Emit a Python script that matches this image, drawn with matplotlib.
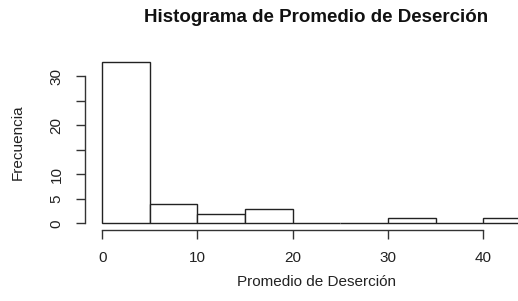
import matplotlib
matplotlib.use("Agg")
import matplotlib.pyplot as plt
import numpy as np

bin_edges = [0, 5, 10, 15, 20, 25, 30, 35, 40, 45]
counts = [33, 4, 2, 3, 0, 0, 1, 0, 1]
x_ticks = [0, 10, 20, 30, 40]
y_ticks = [0, 5, 10, 15, 20, 25, 30]
y_tick_labels = ["0", "5", "10", "", "20", "", "30"]
title = "Histograma de Promedio de Deserción"
xlabel = "Promedio de Deserción"
ylabel = "Frecuencia"

plt.rcParams['font.family'] = ['Liberation Sans', 'DejaVu Sans']

W, H = 518, 301
fig = plt.figure(figsize=(W / 100, H / 100), dpi=100)
fig.patch.set_facecolor("white")

left_px, right_px, top_px, bot_px = 85.1, 548.0, 55.1, 229.8
ax = fig.add_axes([left_px / W, 1 - bot_px / H, (right_px - left_px) / W, (bot_px - top_px) / H])
ax.set_facecolor("none")

edges = np.array(bin_edges)
widths = np.diff(edges)
ax.bar(edges[:-1], counts, width=widths, align="edge", facecolor="white",
       edgecolor="#222222", linewidth=1.0, clip_on=False)

xmin, xmax = edges[0], edges[-1]
ymax = max(counts)
ax.set_xlim(xmin - 0.04 * (xmax - xmin), xmax + 0.04 * (xmax - xmin))
ax.set_ylim(-0.04 * ymax, ymax * 1.04)

for s in ["top", "right"]:
    ax.spines[s].set_visible(False)
ax.spines["left"].set_bounds(y_ticks[0], y_ticks[-1])
ax.spines["bottom"].set_bounds(x_ticks[0], x_ticks[-1])
for s in ["left", "bottom"]:
    ax.spines[s].set_color("#333333")
    ax.spines[s].set_linewidth(1.0)

ax.set_xticks(x_ticks)
ax.set_xticklabels([str(t) for t in x_ticks])
ax.set_yticks(y_ticks)
ax.set_yticklabels(y_tick_labels, rotation=90, va="center")
ax.tick_params(axis="x", length=6.5, width=1.0, color="#333333", pad=9, labelsize=11, labelcolor="#222222")
ax.tick_params(axis="y", length=6.5, width=1.0, color="#333333", pad=9, labelsize=11, labelcolor="#222222")

cx = (left_px + right_px) / 2 / W
fig.text(cx, 1 - 18 / H, title, ha="center", va="center", fontsize=13.5, fontweight="bold", color="#111111")
fig.text(cx, 1 - 281.7 / H, xlabel, ha="center", va="center", fontsize=11, color="#222222")
fig.text(18 / W, 1 - (top_px + bot_px) / 2 / H, ylabel, ha="center", va="center", rotation=90,
         fontsize=11, color="#222222")

fig.savefig("out.png", dpi=100)
